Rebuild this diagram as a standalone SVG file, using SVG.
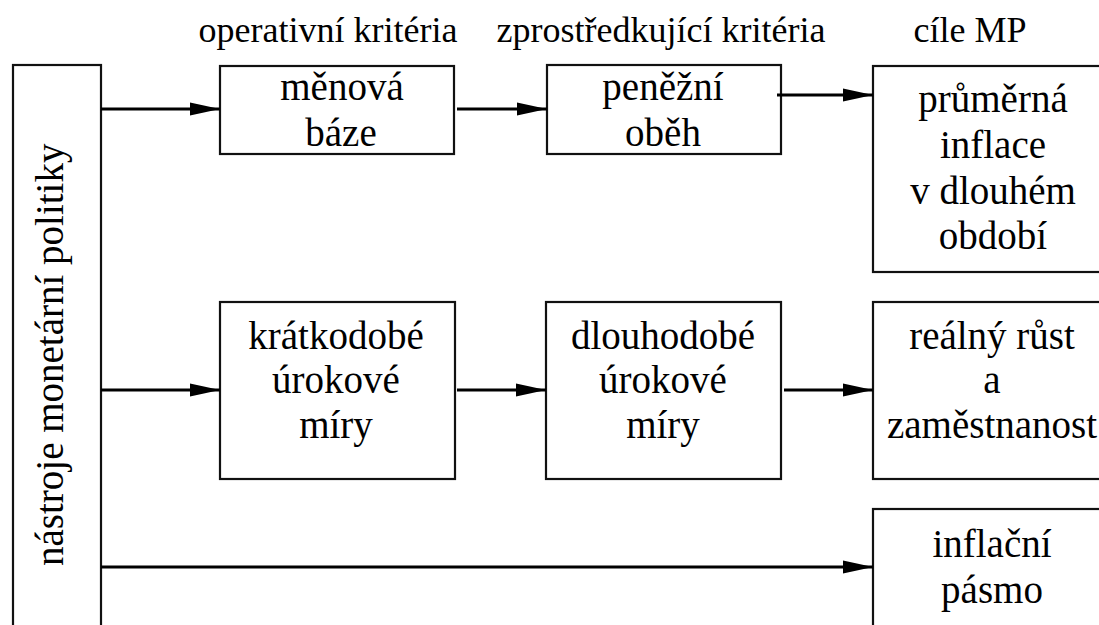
<svg xmlns="http://www.w3.org/2000/svg" width="1099" height="625" viewBox="0 0 1099 625" font-family="'Liberation Serif', Tinos, 'Noto Serif', 'DejaVu Serif', serif">
<style>
  .box { fill: #fff; stroke: #111; stroke-width: 2.2; }
  .c { stroke: #000; stroke-width: 3; fill: none; marker-end: url(#ah); }
</style>
<defs>
  <marker id="ah" markerUnits="userSpaceOnUse" markerWidth="31" markerHeight="14" refX="30.5" refY="6.7" orient="auto">
    <path d="M0,0 L30.5,6.7 L0,13.4 z" fill="#000"/>
  </marker>
</defs>
<rect width="1099" height="625" fill="#fff"/>
<g id="headers" font-family="'Liberation Serif', Tinos, 'Noto Serif', 'DejaVu Serif', serif" font-size="36" text-anchor="middle" fill="#000">
  <text x="328" y="42">operativní kritéria</text>
  <text x="661" y="42">zprostředkující kritéria</text>
  <text x="970" y="42">cíle MP</text>
</g>
<g id="node-nastroje" font-family="'Liberation Serif', Tinos, 'Noto Serif', 'DejaVu Serif', serif" font-size="39">
  <rect class="box" x="13" y="65" width="88" height="600"/>
  <text transform="translate(63,566) rotate(-90)">nástroje monetární politiky</text>
</g>
<g id="node-menova" font-family="'Liberation Serif', Tinos, 'Noto Serif', 'DejaVu Serif', serif" font-size="39" text-anchor="middle">
  <rect class="box" x="220" y="66" width="234" height="88"/>
  <text x="342" y="100">měnová</text>
  <text x="341" y="146">báze</text>
</g>
<g id="node-penezni" font-family="'Liberation Serif', Tinos, 'Noto Serif', 'DejaVu Serif', serif" font-size="39" text-anchor="middle">
  <rect class="box" x="547" y="65" width="234" height="89"/>
  <text x="663" y="100">peněžní</text>
  <text x="663" y="146">oběh</text>
</g>
<g id="node-prumerna" font-family="'Liberation Serif', Tinos, 'Noto Serif', 'DejaVu Serif', serif" font-size="39" text-anchor="middle">
  <rect class="box" x="873" y="66" width="240" height="206"/>
  <text x="993" y="112">průměrná</text>
  <text x="993" y="158">inflace</text>
  <text x="993" y="204">v dlouhém</text>
  <text x="993" y="249">období</text>
</g>
<g id="node-kratkodobe" font-family="'Liberation Serif', Tinos, 'Noto Serif', 'DejaVu Serif', serif" font-size="39" text-anchor="middle">
  <rect class="box" x="220" y="302" width="235" height="177"/>
  <text x="336" y="349">krátkodobé</text>
  <text x="336" y="393">úrokové</text>
  <text x="336" y="438">míry</text>
</g>
<g id="node-dlouhodobe" font-family="'Liberation Serif', Tinos, 'Noto Serif', 'DejaVu Serif', serif" font-size="39" text-anchor="middle">
  <rect class="box" x="546" y="302" width="235" height="177"/>
  <text x="663" y="349">dlouhodobé</text>
  <text x="663" y="393">úrokové</text>
  <text x="663" y="438">míry</text>
</g>
<g id="node-realny" font-family="'Liberation Serif', Tinos, 'Noto Serif', 'DejaVu Serif', serif" font-size="39" text-anchor="middle">
  <rect class="box" x="873" y="302" width="240" height="177"/>
  <text x="992" y="349">reálný růst</text>
  <text x="992" y="393">a</text>
  <text x="992" y="438">zaměstnanost</text>
</g>
<g id="node-inflacni" font-family="'Liberation Serif', Tinos, 'Noto Serif', 'DejaVu Serif', serif" font-size="39" text-anchor="middle">
  <rect class="box" x="873" y="509" width="240" height="140"/>
  <text x="992" y="557">inflační</text>
  <text x="992" y="603">pásmo</text>
</g>
<g id="connectors">
  <line class="c" x1="101" y1="109" x2="220" y2="109"/>
  <line class="c" x1="457" y1="109" x2="547" y2="109"/>
  <line class="c" x1="777" y1="95" x2="873" y2="95"/>
  <line class="c" x1="101" y1="390" x2="220" y2="390"/>
  <line class="c" x1="457" y1="390" x2="546" y2="390"/>
  <line class="c" x1="784" y1="390" x2="873" y2="390"/>
  <line class="c" x1="101" y1="567" x2="873" y2="567"/>
</g>
</svg>
